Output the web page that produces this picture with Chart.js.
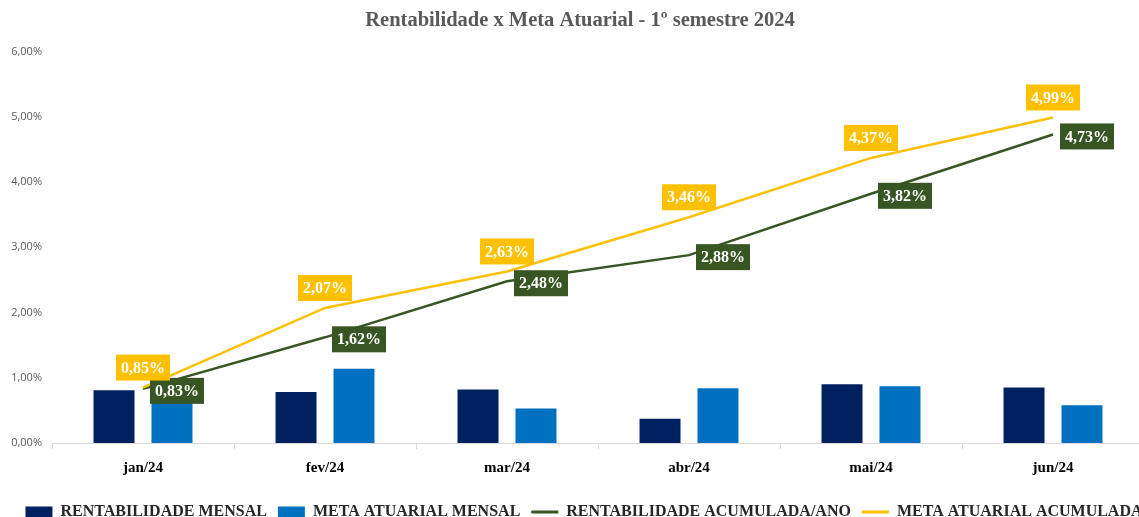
<!DOCTYPE html>
<html>
<head>
<meta charset="utf-8">
<script src="https://cdn.jsdelivr.net/npm/chart.js@4.4.1/dist/chart.umd.min.js"></script>
<style>
  html, body { margin: 0; padding: 0; background: #fff; overflow: hidden; }
  #wrap { width: 1200px; height: 517px; }
</style>
</head>
<body>
<div id="wrap"><canvas id="chart" width="1200" height="517"></canvas></div>
<script>
// chart data (percent values)
const months = ['jan/24', 'fev/24', 'mar/24', 'abr/24', 'mai/24', 'jun/24'];
const rentMensal = [0.81, 0.78, 0.82, 0.37, 0.90, 0.85];
const metaMensal = [0.85, 1.14, 0.53, 0.84, 0.87, 0.58];
const rentAcum = [0.83, 1.62, 2.48, 2.88, 3.82, 4.73];
const metaAcum = [0.85, 2.07, 2.63, 3.46, 4.37, 4.99];
const yTicks = [0, 1, 2, 3, 4, 5, 6];

const SERIF = '"Liberation Serif", "DejaVu Serif", serif';
const fmt = v => v.toFixed(2).replace('.', ',') + '%';

// boxed value labels next to the line points
const boxLabels = {
    id: 'boxLabels',
    afterDatasetsDraw(chart) {
        const ctx = chart.ctx;
        chart.data.datasets.forEach((ds, i) => {
            if (!ds.boxLabel) return;
            const meta = chart.getDatasetMeta(i);
            ctx.save();
            ctx.font = 'bold 16px ' + SERIF;
            ctx.textAlign = 'center';
            ctx.textBaseline = 'middle';
            meta.data.forEach((pt, j) => {
                const cx = pt.x + ds.boxLabel.dx, cy = pt.y + ds.boxLabel.dy;
                const txt = fmt(ds.data[j]);
                const w = ctx.measureText(txt).width + 10;
                const h = 26;
                ctx.fillStyle = ds.boxLabel.bg;
                ctx.fillRect(cx - w / 2, cy - h / 2, w, h);
                ctx.fillStyle = '#fff';
                ctx.fillText(txt, cx, cy + 1);
            });
            ctx.restore();
        });
    }
};

// nudge title and legend a bit right, like the excel original
const nudge = {
    id: 'nudge',
    afterLayout(chart) {
        chart.titleBlock.left += 8; chart.titleBlock.right += 8;
        chart.legend.left += 12; chart.legend.right += 12;
    }
};

new Chart(document.getElementById('chart'), {
    type: 'bar',
    data: {
        labels: months,
        datasets: [
            { type: 'bar', label: 'RENTABILIDADE MENSAL', data: rentMensal, backgroundColor: '#002060', order: 2,
              categoryPercentage: 0.637, barPercentage: 0.707 },
            { type: 'bar', label: 'META ATUARIAL MENSAL', data: metaMensal, backgroundColor: '#0070C0', order: 2,
              categoryPercentage: 0.637, barPercentage: 0.707 },
            { type: 'line', label: 'RENTABILIDADE ACUMULADA/ANO', data: rentAcum, borderColor: '#375623', backgroundColor: '#375623',
              borderWidth: 2.5, pointRadius: 0, tension: 0, order: 1,
              boxLabel: { bg: '#375623', dx: 34, dy: 2 } },
            { type: 'line', label: 'META ATUARIAL ACUMULADA', data: metaAcum, borderColor: '#FFC000', backgroundColor: '#FFC000',
              borderWidth: 2.5, pointRadius: 0, tension: 0, order: 0,
              boxLabel: { bg: '#FFC000', dx: 0, dy: -20 } }
        ]
    },
    options: {
        responsive: false,
        animation: false,
        layout: { padding: { left: 0, right: 56, top: 4, bottom: -13 } },
        plugins: {
            title: {
                display: true,
                text: 'Rentabilidade x Meta Atuarial - 1º semestre 2024',
                color: '#595959',
                font: { family: SERIF, size: 20.5, weight: 'bold' },
                padding: { top: 4, bottom: 19 }
            },
            legend: {
                position: 'bottom',
                labels: {
                    color: '#262626',
                    font: { family: SERIF, size: 16, weight: 'bold' },
                    usePointStyle: true,
                    pointStyleWidth: 27,
                    boxHeight: 11,
                    padding: 11,
                    generateLabels(chart) {
                        return chart.data.datasets.map((ds, i) => ({
                            text: ds.label,
                            datasetIndex: i,
                            fillStyle: ds.backgroundColor,
                            strokeStyle: ds.type === 'line' ? ds.borderColor : ds.backgroundColor,
                            lineWidth: ds.type === 'line' ? 3 : 0,
                            pointStyle: ds.type === 'line' ? 'line' : 'rect',
                            fontColor: '#262626',
                            hidden: false
                        }));
                    }
                }
            },
            tooltip: { enabled: false }
        },
        scales: {
            x: {
                afterFit: s => { s.height = 50; },
                grid: { offset: true, drawOnChartArea: false, drawTicks: true, tickLength: 6, color: '#d9d9d9' },
                border: { color: '#d9d9d9' },
                ticks: { color: '#000', font: { family: SERIF, size: 15, weight: 'bold' }, padding: 10 }
            },
            y: {
                min: 0, max: 6,
                afterBuildTicks: s => { s.ticks = yTicks.map(v => ({ value: v })); },
                afterFit: s => { s.width = 52; },
                grid: { display: false },
                border: { display: false },
                ticks: {
                    color: '#595959',
                    font: { family: '"Open Sans", "Liberation Sans", sans-serif', size: 11 },
                    padding: 2,
                    callback: v => v.toFixed(2).replace('.', ',') + '%'
                }
            }
        }
    },
    plugins: [boxLabels, nudge]
});
</script>
</body>
</html>
